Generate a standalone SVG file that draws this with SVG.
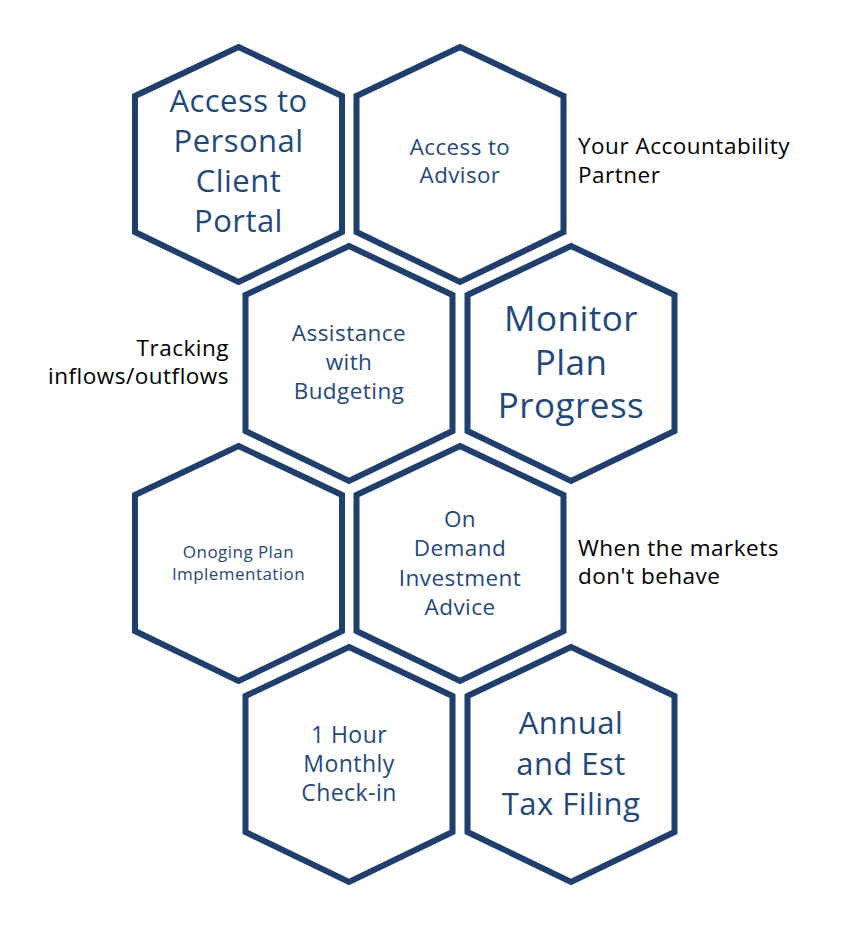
<svg xmlns="http://www.w3.org/2000/svg" width="843" height="931" viewBox="0 0 843 931">
<style>
.hex{fill:#FFFFFF;stroke:#1F3F6E;stroke-width:6;stroke-linejoin:miter}
.ht{font-family:"Open Sans","Noto Sans",sans-serif;fill:#1F497D;text-anchor:middle;letter-spacing:0.45px}
.side{font-family:"Open Sans","Noto Sans",sans-serif;fill:#000000;font-size:22.5px;letter-spacing:0.5px}
</style>
<defs>
<polygon id="hx" points="0,0 103.5,49 103.5,185 0,235 -103.5,185 -103.5,49"/>
</defs>
<rect width="843" height="931" fill="#FFFFFF"/>
<g id="connectors"/>
<g id="portal">
<use href="#hx" class="hex" x="238.5" y="47"/>
<text class="ht" font-size="31" x="238.5"><tspan x="238.5" y="112">Access to</tspan><tspan x="238.5" y="152">Personal</tspan><tspan x="238.5" y="192">Client</tspan><tspan x="238.5" y="232">Portal</tspan></text>
</g>
<g id="advisor">
<use href="#hx" class="hex" x="460" y="47"/>
<text class="ht" font-size="22.3" x="460"><tspan x="460" y="155">Access to</tspan><tspan x="460" y="183">Advisor</tspan></text>
</g>
<g id="budgeting">
<use href="#hx" class="hex" x="349" y="246"/>
<text class="ht" font-size="22.5" x="349"><tspan x="349" y="341">Assistance</tspan><tspan x="349" y="370">with</tspan><tspan x="349" y="399">Budgeting</tspan></text>
</g>
<g id="monitor">
<use href="#hx" class="hex" x="571" y="246"/>
<text class="ht" font-size="35" x="571"><tspan x="571" y="331">Monitor</tspan><tspan x="571" y="375">Plan</tspan><tspan x="571" y="418">Progress</tspan></text>
</g>
<g id="implementation">
<use href="#hx" class="hex" x="238.5" y="446"/>
<text class="ht" font-size="17" x="238.5"><tspan x="238.5" y="558">Onoging Plan</tspan><tspan x="238.5" y="580">Implementation</tspan></text>
</g>
<g id="investment">
<use href="#hx" class="hex" x="460" y="446"/>
<text class="ht" font-size="22.5" x="460"><tspan x="460" y="527">On</tspan><tspan x="460" y="556">Demand</tspan><tspan x="460" y="586">Investment</tspan><tspan x="460" y="615">Advice</tspan></text>
</g>
<g id="checkin">
<use href="#hx" class="hex" x="349" y="647"/>
<text class="ht" font-size="23" x="349"><tspan x="349" y="743">1 Hour</tspan><tspan x="349" y="772">Monthly</tspan><tspan x="349" y="801">Check-in</tspan></text>
</g>
<g id="tax">
<use href="#hx" class="hex" x="571" y="647"/>
<text class="ht" font-size="31" x="571"><tspan x="571" y="734">Annual</tspan><tspan x="571" y="775">and Est</tspan><tspan x="571" y="815">Tax Filing</tspan></text>
</g>
<g id="labels">
<text class="side" x="578"><tspan x="578" y="154">Your Accountability</tspan><tspan x="578" y="183">Partner</tspan></text>
<text class="side" text-anchor="end" x="229"><tspan x="229" y="356">Tracking</tspan><tspan x="229" y="384">inflows/outflows</tspan></text>
<text class="side" x="578"><tspan x="578" y="556">When the markets</tspan><tspan x="578" y="584">don't behave</tspan></text>
</g>
</svg>
